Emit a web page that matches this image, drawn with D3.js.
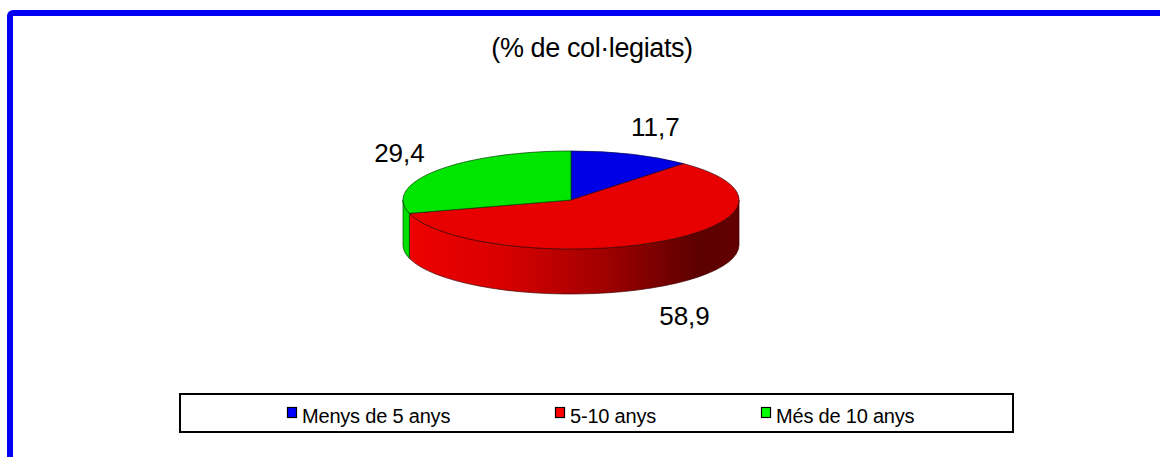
<!DOCTYPE html>
<html>
<head>
<meta charset="utf-8">
<script src="https://cdn.jsdelivr.net/npm/d3@7"></script>
<style>
  html, body { margin: 0; padding: 0; background: #fff; }
  svg { display: block; font-family: "Liberation Sans", Arial, sans-serif; }
</style>
</head>
<body>
<svg id="chart" width="1160" height="457"></svg>
<script>
var title = "(% de col\u00b7legiats)";
var categories = ["Menys de 5 anys", "5-10 anys", "M\u00e9s de 10 anys"];
var values = [11.7, 58.9, 29.4];
var valueLabels = ["11,7", "58,9", "29,4"];
var topColors = ["#0000e6", "#e80000", "#00e600"];
var legendColors = ["#0000ff", "#ff0000", "#00ff00"];

var svg = d3.select("#chart");

// outer frame
svg.append("rect")
	.attr("x", 10).attr("y", 13)
	.attr("width", 1200).attr("height", 500)
	.attr("rx", 3)
	.attr("fill", "none")
	.attr("stroke", "#0000f4")
	.attr("stroke-width", 6);

svg.append("text")
	.attr("x", 592).attr("y", 57)
	.attr("text-anchor", "middle")
	.attr("font-size", 27)
	.attr("letter-spacing", -0.4)
	.attr("fill", "#000")
	.text(title);

// 3d pie geometry
var cx = 571, cy = 200, rx = 168, ry = 49, depth = 45;

var pie = d3.pie().sort(null).value(function(d) { return d; });
var arcs = pie(values);

function pt(a, dy) {
	return [cx + rx * Math.sin(a), cy - ry * Math.cos(a) + (dy || 0)];
}

function topPath(d) {
	var p0 = pt(d.startAngle), p1 = pt(d.endAngle);
	var large = (d.endAngle - d.startAngle) > Math.PI ? 1 : 0;
	return "M" + cx + "," + cy + "L" + p0 + "A" + rx + "," + ry + " 0 " + large + " 1 " + p1 + "Z";
}

function sidePath(d) {
	var a0 = Math.max(d.startAngle, Math.PI / 2);
	var a1 = Math.min(d.endAngle, 3 * Math.PI / 2);
	if (a1 <= a0) return null;
	var p0 = pt(a0), p1 = pt(a1), q0 = pt(a0, depth), q1 = pt(a1, depth);
	return "M" + p0 + "A" + rx + "," + ry + " 0 0 1 " + p1 +
		"L" + q1 + "A" + rx + "," + ry + " 0 0 0 " + q0 + "Z";
}

var defs = svg.append("defs");
var sideGrad = [
	["#0000f0", "#0000c0", "#000090", "#000058", "#000060"],
	["#f00000", "#d80000", "#a00000", "#5c0000", "#620000"],
	["#00e000", "#00c000", "#009000", "#005800", "#006000"]
];
sideGrad.forEach(function(stops, i) {
	var g = defs.append("linearGradient")
		.attr("id", "side" + i)
		.attr("gradientUnits", "userSpaceOnUse")
		.attr("x1", cx - rx).attr("x2", cx + rx)
		.attr("y1", 0).attr("y2", 0);
	[0, 0.3, 0.6, 0.88, 1].forEach(function(o, k) {
		g.append("stop").attr("offset", o).attr("stop-color", stops[k]);
	});
});

var edge = ["#000050", "#400000", "#004000"];

svg.append("g").selectAll("path")
	.data(arcs.filter(function(d) { return sidePath(d); }))
	.join("path")
	.attr("d", sidePath)
	.attr("fill", function(d) { return "url(#side" + d.index + ")"; })
	.attr("stroke", function(d) { return edge[d.index]; })
	.attr("stroke-width", 0.7);

svg.append("g").selectAll("path")
	.data(arcs)
	.join("path")
	.attr("d", topPath)
	.attr("fill", function(d) { return topColors[d.index]; })
	.attr("stroke", function(d) { return edge[d.index]; })
	.attr("stroke-width", 0.7);

// value labels
svg.append("g").selectAll("text")
	.data(arcs)
	.join("text")
	.attr("x", function(d) {
		var m = (d.startAngle + d.endAngle) / 2;
		return cx + rx * 1.28 * Math.sin(m) + (Math.sin(m) > 0 && Math.cos(m) > 0 ? 7 : 0);
	})
	.attr("y", function(d) {
		var m = (d.startAngle + d.endAngle) / 2;
		var c = Math.cos(m);
		return cy - ry * 1.65 * c + (c < 0 ? depth : 0) + 11;
	})
	.attr("text-anchor", "middle")
	.attr("font-size", 26)
	.attr("fill", "#000")
	.text(function(d) { return valueLabels[d.index]; });

// legend
var legend = svg.append("g");
legend.append("rect")
	.attr("x", 180).attr("y", 394)
	.attr("width", 833).attr("height", 38)
	.attr("fill", "#fff")
	.attr("stroke", "#000")
	.attr("stroke-width", 2);

var legendPos = [287, 555, 761];
var items = legend.selectAll("g.item")
	.data(categories)
	.join("g")
	.attr("class", "item")
	.attr("transform", function(d, i) { return "translate(" + legendPos[i] + ",407)"; });

items.append("rect")
	.attr("width", 9).attr("height", 10)
	.attr("x", 0.5).attr("y", 0.5)
	.attr("fill", function(d, i) { return legendColors[i]; })
	.attr("stroke", "#000")
	.attr("stroke-width", 1.2);

items.append("text")
	.attr("x", 15).attr("y", 16)
	.attr("font-size", 20)
	.attr("letter-spacing", -0.2)
	.attr("fill", "#000")
	.text(function(d) { return d; });
</script>
</body>
</html>
